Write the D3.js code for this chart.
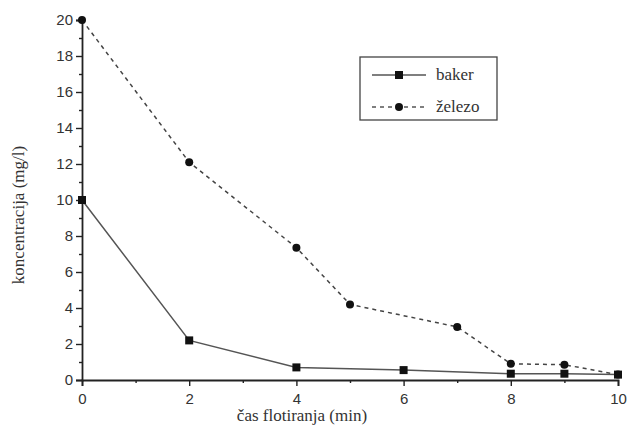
<!DOCTYPE html>
<html>
<head>
<meta charset="utf-8">
<script src="https://cdn.jsdelivr.net/npm/d3@7"></script>
<style>
  body { margin: 0; background: #fff; }
  svg { display: block; }
  .serif { font-family: 'Liberation Serif', 'DejaVu Serif', serif; }
  .sans { font-family: 'Liberation Sans', 'DejaVu Sans', sans-serif; }
</style>
</head>
<body>
<div class="chart"></div>
<script>
  'use strict';

  // data
  var times = [0, 2, 4, 6, 8, 9, 10];
  var baker = [10, 2.2, 0.7, 0.55, 0.35, 0.35, 0.3];
  var zelezoTimes = [0, 2, 4, 5, 7, 8, 9, 10];
  var zelezo = [20, 12.1, 7.35, 4.2, 2.95, 0.9, 0.85, 0.3];
  var xTicks = [0, 2, 4, 6, 8, 10];
  var yTicks = [0, 2, 4, 6, 8, 10, 12, 14, 16, 18, 20];

  var width = 628, height = 432;
  var m = { left: 82, right: 10, top: 20, bottom: 52 };

  var svg = d3.select('.chart').append('svg')
    .attr('width', width)
    .attr('height', height);

  var x = d3.scaleLinear().domain([0, 10]).range([m.left, width - m.right]);
  var y = d3.scaleLinear().domain([0, 20]).range([height - m.bottom, m.top]);

  var ink = '#222';

  // x axis: major ticks every 2, minor at odd numbers
  svg.append('g')
    .attr('transform', 'translate(0,' + y(0) + ')')
    .call(d3.axisBottom(x).tickValues(xTicks).tickSize(6).tickPadding(7).tickFormat(d3.format('d')));
  svg.append('g')
    .attr('transform', 'translate(0,' + y(0) + ')')
    .call(d3.axisBottom(x).tickValues([1, 3, 5, 7, 9]).tickSize(3).tickFormat(''))
    .select('.domain').remove();

  // y axis
  svg.append('g')
    .attr('transform', 'translate(' + x(0) + ',0)')
    .call(d3.axisLeft(y).tickValues(yTicks).tickSize(6).tickPadding(3).tickFormat(d3.format('d')));
  svg.append('g')
    .attr('transform', 'translate(' + x(0) + ',0)')
    .call(d3.axisLeft(y).tickValues(d3.range(1, 20, 2)).tickSize(3).tickFormat(''))
    .select('.domain').remove();

  svg.selectAll('.domain').attr('stroke', ink).attr('stroke-width', 1.8);
  svg.selectAll('.tick line').attr('stroke', ink).attr('stroke-width', 1.4);
  svg.selectAll('g').attr('font-family', null).attr('font-size', 15);
  svg.selectAll('.tick text')
    .attr('class', 'sans')
    .attr('fill', '#333');

  // axis titles
  svg.append('text')
    .attr('class', 'serif')
    .attr('x', 302).attr('y', 421)
    .attr('text-anchor', 'middle')
    .attr('font-size', 17)
    .attr('fill', '#333')
    .text('čas flotiranja (min)');

  svg.append('text')
    .attr('class', 'serif')
    .attr('transform', 'translate(24,215) rotate(-90)')
    .attr('text-anchor', 'middle')
    .attr('font-size', 17)
    .attr('fill', '#333')
    .text('koncentracija (mg/l)');

  var bakerData = times.map(function(t, i) { return [t, baker[i]]; });
  var zelezoData = zelezoTimes.map(function(t, i) { return [t, zelezo[i]]; });

  var line = d3.line()
    .x(function(d) { return x(d[0]); })
    .y(function(d) { return y(d[1]); });

  // železo: dashed line with dots
  svg.append('path')
    .datum(zelezoData)
    .attr('d', line)
    .attr('fill', 'none')
    .attr('stroke', '#444')
    .attr('stroke-width', 1.5)
    .attr('stroke-dasharray', '4,4');

  svg.selectAll('circle.zelezo')
    .data(zelezoData)
    .enter().append('circle')
    .attr('class', 'zelezo')
    .attr('cx', function(d) { return x(d[0]); })
    .attr('cy', function(d) { return y(d[1]); })
    .attr('r', 4)
    .attr('fill', '#111');

  // baker: solid line with squares
  svg.append('path')
    .datum(bakerData)
    .attr('d', line)
    .attr('fill', 'none')
    .attr('stroke', '#555')
    .attr('stroke-width', 1.5);

  svg.selectAll('rect.baker')
    .data(bakerData)
    .enter().append('rect')
    .attr('class', 'baker')
    .attr('x', function(d) { return x(d[0]) - 4; })
    .attr('y', function(d) { return y(d[1]) - 4; })
    .attr('width', 8)
    .attr('height', 8)
    .attr('fill', '#111');

  // legend
  var legend = svg.append('g').attr('transform', 'translate(360,57)');
  legend.append('rect')
    .attr('width', 137).attr('height', 63)
    .attr('fill', '#fff')
    .attr('stroke', '#444')
    .attr('stroke-width', 1.3);

  var rows = [
    { name: 'baker', dash: null, shape: 'square' },
    { name: 'železo', dash: '4,4', shape: 'circle' }
  ];

  rows.forEach(function(r, i) {
    var ly = 18 + i * 32;
    legend.append('line')
      .attr('x1', 12).attr('x2', 66)
      .attr('y1', ly).attr('y2', ly)
      .attr('stroke', '#555')
      .attr('stroke-width', 1.5)
      .attr('stroke-dasharray', r.dash);
    if (r.shape === 'square') {
      legend.append('rect')
        .attr('x', 35).attr('y', ly - 4)
        .attr('width', 8).attr('height', 8)
        .attr('fill', '#111');
    } else {
      legend.append('circle')
        .attr('cx', 39).attr('cy', ly)
        .attr('r', 4)
        .attr('fill', '#111');
    }
    legend.append('text')
      .attr('class', 'serif')
      .attr('x', 76).attr('y', ly + 5)
      .attr('font-size', 17)
      .attr('fill', '#333')
      .text(r.name);
  });
</script>
</body>
</html>
